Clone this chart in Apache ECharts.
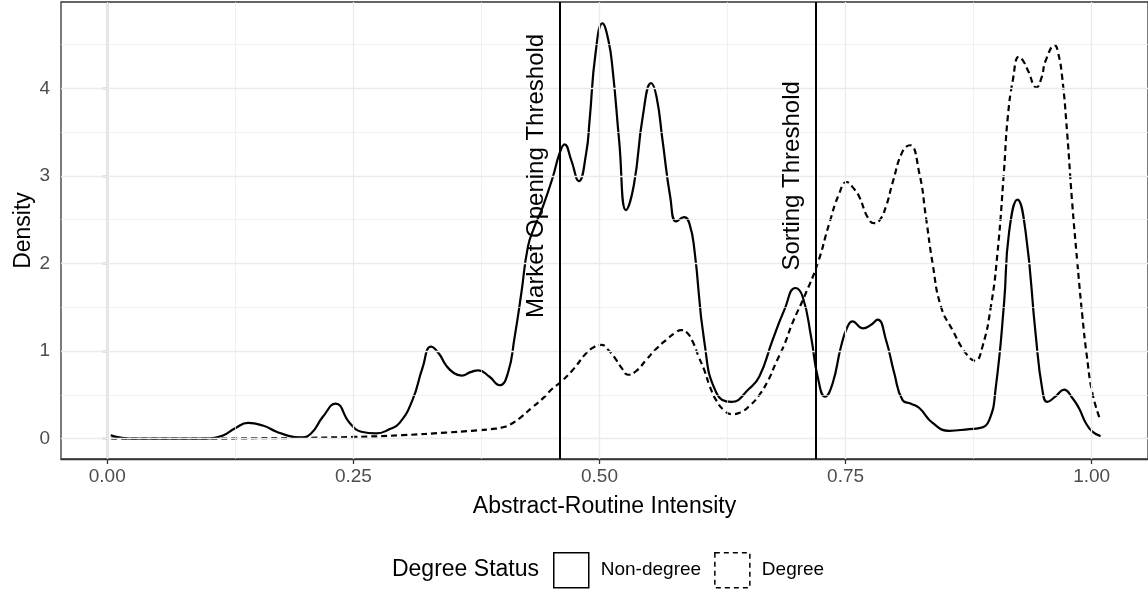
<!DOCTYPE html>
<html>
<head>
<meta charset="utf-8">
<script src="https://cdn.jsdelivr.net/npm/echarts@6/dist/echarts.min.js"></script>
<style>
  html, body { margin: 0; padding: 0; background: #fff; }
  #main { width: 1148px; height: 591px; }
</style>
</head>
<body>
<div id="main"></div>
<script>
// density curves
const nonDegreeX = [0.0035, 0.015, 0.03, 0.06, 0.09, 0.105, 0.118, 0.13, 0.143, 0.158, 0.172, 0.185, 0.196, 0.207, 0.219, 0.232, 0.2463, 0.258, 0.273, 0.287, 0.297, 0.31, 0.32, 0.329, 0.337, 0.344, 0.352, 0.36, 0.369, 0.377, 0.388, 0.3985, 0.407, 0.4138, 0.4206, 0.4273, 0.434, 0.4425, 0.4527, 0.4595, 0.4645, 0.4713, 0.479, 0.4865, 0.49, 0.496, 0.503, 0.509, 0.5135, 0.52, 0.527, 0.535, 0.544, 0.5525, 0.558, 0.564, 0.572, 0.578, 0.586, 0.5915, 0.5965, 0.6066, 0.6185, 0.634, 0.652, 0.6624, 0.676, 0.6878, 0.699, 0.7064, 0.715, 0.7216, 0.7292, 0.7368, 0.7453, 0.752, 0.757, 0.7673, 0.776, 0.7825, 0.791, 0.7994, 0.8079, 0.8164, 0.8249, 0.8384, 0.8553, 0.8756, 0.8857, 0.8958, 0.9026, 0.911, 0.916, 0.9246, 0.933, 0.943, 0.95, 0.955, 0.963, 0.972, 0.98, 0.987, 0.994, 1.0007, 1.009];
const nonDegreeY = [0.04, 0.01, 0.0, 0.0, 0.0, 0.003, 0.04, 0.12, 0.18, 0.15, 0.08, 0.03, 0.015, 0.06, 0.25, 0.40, 0.18, 0.08, 0.06, 0.11, 0.18, 0.44, 0.80, 1.05, 0.97, 0.84, 0.75, 0.72, 0.76, 0.78, 0.71, 0.61, 0.75, 1.16, 1.66, 2.19, 2.42, 2.65, 2.99, 3.26, 3.36, 3.18, 2.94, 3.26, 3.64, 4.40, 4.74, 4.55, 4.20, 3.40, 2.61, 2.90, 3.68, 4.06, 3.90, 3.41, 2.75, 2.48, 2.53, 2.45, 2.15, 1.10, 0.53, 0.42, 0.57, 0.71, 1.13, 1.47, 1.72, 1.62, 1.16, 0.71, 0.48, 0.63, 1.05, 1.28, 1.34, 1.26, 1.30, 1.36, 1.13, 0.75, 0.44, 0.40, 0.35, 0.18, 0.09, 0.11, 0.12, 0.21, 0.59, 1.55, 2.35, 2.73, 2.35, 1.20, 0.55, 0.42, 0.48, 0.56, 0.47, 0.35, 0.18, 0.08, 0.03];

const degreeX = [0.004, 0.05, 0.10, 0.15, 0.20, 0.25, 0.30, 0.344, 0.37, 0.39, 0.402, 0.412, 0.4206, 0.432, 0.4425, 0.452, 0.461, 0.474, 0.4865, 0.495, 0.502, 0.51, 0.517, 0.523, 0.529, 0.537, 0.5475, 0.558, 0.568, 0.577, 0.583, 0.589, 0.595, 0.601, 0.6066, 0.612, 0.6185, 0.626, 0.634, 0.643, 0.652, 0.6624, 0.672, 0.679, 0.688, 0.696, 0.708, 0.7216, 0.7335, 0.7436, 0.751, 0.758, 0.764, 0.7723, 0.779, 0.7843, 0.791, 0.7977, 0.8079, 0.8154, 0.8249, 0.8316, 0.8384, 0.8468, 0.8586, 0.8722, 0.8816, 0.889, 0.8976, 0.9043, 0.911, 0.9145, 0.92, 0.926, 0.93, 0.935, 0.944, 0.949, 0.9534, 0.9626, 0.966, 0.97, 0.975, 0.98, 0.9855, 0.9906, 0.995, 1.0007, 1.0082];
const degreeY = [0.0, 0.0, 0.0, 0.005, 0.01, 0.02, 0.04, 0.07, 0.09, 0.11, 0.13, 0.18, 0.25, 0.36, 0.46, 0.57, 0.65, 0.80, 0.975, 1.05, 1.07, 1.00, 0.90, 0.80, 0.73, 0.77, 0.90, 1.03, 1.13, 1.21, 1.24, 1.21, 1.10, 0.93, 0.78, 0.60, 0.44, 0.33, 0.28, 0.30, 0.37, 0.50, 0.68, 0.86, 1.08, 1.32, 1.62, 2.00, 2.46, 2.80, 2.93, 2.86, 2.76, 2.53, 2.46, 2.49, 2.65, 2.92, 3.28, 3.35, 3.03, 2.53, 2.00, 1.51, 1.24, 0.975, 0.89, 1.05, 1.51, 2.12, 3.07, 3.64, 4.10, 4.36, 4.32, 4.21, 4.01, 4.12, 4.32, 4.49, 4.40, 4.13, 3.50, 2.72, 2.00, 1.39, 0.95, 0.52, 0.23];

const thresholdX = [0.4625, 0.7223];
const thresholdLabels = ['Market Opening Threshold', 'Sorting Threshold'];
const thresholdLabelY = 3;

const xTicks = [0, 0.25, 0.5, 0.75, 1];
const xMinor = [0.125, 0.375, 0.625, 0.875];
const yTicks = [0, 1, 2, 3, 4];
const yMinor = [0.5, 1.5, 2.5, 3.5, 4.5];

const font = '"Liberation Sans", Arial, Helvetica, sans-serif';

function pairs(xs, ys) {
  return xs.map((x, i) => [x, ys[i]]);
}

const gridLines = []
  .concat(xTicks.map(v => ({ xAxis: v, lineStyle: { width: 1.3 } })))
  .concat(xMinor.map(v => ({ xAxis: v, lineStyle: { width: 0.7 } })))
  .concat(yTicks.map(v => ({ yAxis: v, lineStyle: { width: 1.3 } })))
  .concat(yMinor.map(v => ({ yAxis: v, lineStyle: { width: 0.7 } })));

var myChart = echarts.init(document.getElementById('main'));

var option = {
  animation: false,
  grid: {
    left: 61, right: -1, top: 2, bottom: 132,
    show: true, borderColor: '#333', borderWidth: 1.3, backgroundColor: '#fff'
  },
  xAxis: {
    type: 'value',
    min: -0.047, max: 1.0572,
    name: 'Abstract-Routine Intensity',
    nameLocation: 'middle', nameGap: 36,
    nameTextStyle: { fontSize: 23, color: '#000', fontFamily: font },
    axisLine: { show: true, onZero: false, lineStyle: { color: '#333', width: 1.3 } },
    axisTick: { show: true, length: 5, customValues: xTicks, lineStyle: { color: '#333', width: 1.3 } },
    axisLabel: {
      customValues: xTicks, margin: 8, fontSize: 19, color: '#4d4d4d', fontFamily: font,
      formatter: v => v.toFixed(2)
    },
    splitLine: { show: false }
  },
  yAxis: {
    type: 'value',
    min: -0.2317, max: 4.985,
    name: 'Density',
    nameLocation: 'middle', nameGap: 26, nameMoveOverlap: false,
    nameTextStyle: { fontSize: 23, color: '#000', fontFamily: font },
    axisLine: { show: true, lineStyle: { color: '#333', width: 1.3 } },
    axisTick: { show: true, length: 5, customValues: yTicks, lineStyle: { color: '#333', width: 1.3 } },
    axisLabel: { customValues: yTicks, margin: 11, fontSize: 19, color: '#4d4d4d', fontFamily: font },
    splitLine: { show: false }
  },
  legend: {
    left: 548, top: 547,
    itemWidth: 35, itemHeight: 35, itemGap: 13,
    selectedMode: false,
    textStyle: { fontSize: 19, color: '#000', fontFamily: font, padding: [0, 0, 0, 7] },
    data: [
      { name: 'Non-degree', icon: 'rect',
        itemStyle: { color: 'rgba(0,0,0,0)', borderColor: '#000', borderWidth: 1.5 } },
      { name: 'Degree', icon: 'rect',
        itemStyle: { color: 'rgba(0,0,0,0)', borderColor: '#000', borderWidth: 1.5, borderType: [5, 4] } }
    ]
  },
  graphic: [{
    type: 'text', x: 539, y: 570,
    style: { text: 'Degree Status', align: 'right', verticalAlign: 'middle',
             fontSize: 23, fontFamily: font, fill: '#000' }
  }],
  series: [
    {
      // panel grid lines
      name: 'grid', type: 'line', data: [], z: 1, silent: true,
      markLine: {
        silent: true, symbol: 'none', animation: false,
        label: { show: false },
        lineStyle: { color: '#ebebeb', type: 'solid' },
        data: gridLines
      }
    },
    {
      name: 'Non-degree', type: 'line', z: 3,
      data: pairs(nonDegreeX, nonDegreeY),
      showSymbol: false, smooth: 0.5,
      lineStyle: { color: '#000', width: 2.2 },
      itemStyle: { color: '#000' }
    },
    {
      name: 'Degree', type: 'line', z: 3,
      data: pairs(degreeX, degreeY),
      showSymbol: false, smooth: 0.5,
      lineStyle: { color: '#000', width: 2.2, type: [6, 4] },
      itemStyle: { color: '#000' }
    },
    {
      // threshold lines
      name: 'thresholds', type: 'line', data: [], z: 4, silent: true,
      markLine: {
        silent: true, symbol: 'none', animation: false,
        label: { show: false },
        lineStyle: { color: '#000', width: 2, type: 'solid' },
        data: thresholdX.map(v => ({ xAxis: v }))
      }
    },
    {
      // threshold labels
      name: 'labels', type: 'scatter', z: 5, silent: true,
      symbolSize: 0,
      itemStyle: { opacity: 1 },
      data: thresholdX.map((x, i) => [x, thresholdLabelY, thresholdLabels[i]]),
      label: {
        show: true, position: 'inside', rotate: 90, offset: [0, -26],
        formatter: p => p.data[2],
        fontSize: 24, color: '#000', fontFamily: font, opacity: 1
      }
    }
  ]
};

myChart.setOption(option);
</script>
</body>
</html>
